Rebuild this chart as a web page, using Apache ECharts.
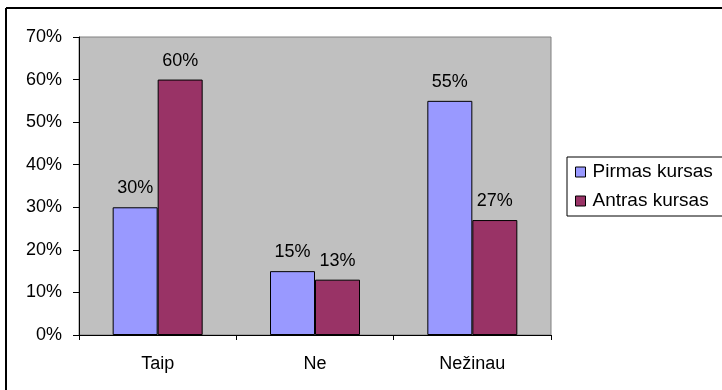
<!DOCTYPE html>
<html>
<head>
<meta charset="utf-8">
<style>
  html, body { margin: 0; padding: 0; background: #fff; }
  #chart { width: 722px; height: 390px; }
</style>
<script src="https://cdn.jsdelivr.net/npm/echarts@6/dist/echarts.min.js"></script>
</head>
<body>
<div id="chart"></div>
<script>
// Answers by course, percent
const categories = ['Taip', 'Ne', 'Nežinau'];
const pirmasKursas = [30, 15, 55];
const antrasKursas = [60, 13, 27];
const seriesNames = ['Pirmas kursas', 'Antras kursas'];

const FONT = '"Liberation Sans", Arial, sans-serif';

const chart = echarts.init(document.getElementById('chart'), null, { renderer: 'canvas' });

const barLabel = {
  show: true,
  position: 'top',
  distance: 10,
  formatter: '{c}%',
  color: '#000',
  fontFamily: FONT,
  fontSize: 18
};

chart.setOption({
  animation: false,
  backgroundColor: '#fff',
  textStyle: { fontFamily: FONT },
  graphic: [
    // frame around the chart area (top and left edges)
    { type: 'line', shape: { x1: 6, y1: 8, x2: 722, y2: 8 }, style: { stroke: '#000', lineWidth: 2 } },
    { type: 'line', shape: { x1: 6, y1: 8, x2: 6, y2: 390 }, style: { stroke: '#000', lineWidth: 2 } }
  ],
  grid: {
    left: 79, top: 37, right: 171, bottom: 55,
    show: true,
    backgroundColor: '#C0C0C0',
    borderColor: '#808080',
    borderWidth: 1
  },
  legend: {
    left: 567,
    top: 157,
    orient: 'vertical',
    data: seriesNames,
    icon: 'rect',
    itemWidth: 10,
    itemHeight: 10,
    itemGap: 9,
    padding: [5, 40, 5, 8],
    borderColor: '#000',
    borderWidth: 1,
    backgroundColor: '#fff',
    itemStyle: { borderColor: '#000', borderWidth: 1 },
    textStyle: { fontFamily: FONT, fontSize: 19, color: '#000', lineHeight: 20, padding: [0, 0, 0, 2] }
  },
  xAxis: {
    type: 'category',
    data: categories,
    axisLine: { show: true, lineStyle: { color: '#000', width: 1 } },
    axisTick: { show: true, length: 5, lineStyle: { color: '#000' } },
    axisLabel: { color: '#000', fontFamily: FONT, fontSize: 18, margin: 20 },
    splitLine: { show: false }
  },
  yAxis: {
    type: 'value',
    min: 0,
    max: 70,
    interval: 10,
    axisLine: { show: true, lineStyle: { color: '#000', width: 1 } },
    axisTick: { show: true, length: 6, lineStyle: { color: '#000' } },
    axisLabel: { color: '#000', fontFamily: FONT, fontSize: 18, margin: 17, formatter: '{value}%' },
    splitLine: { show: false }
  },
  series: [
    {
      name: seriesNames[0],
      type: 'bar',
      data: pirmasKursas,
      barWidth: 45,
      barGap: '0%',
      itemStyle: { color: '#9999FF', borderColor: '#000', borderWidth: 1 },
      label: barLabel
    },
    {
      name: seriesNames[1],
      type: 'bar',
      data: antrasKursas,
      barWidth: 45,
      barGap: '0%',
      itemStyle: { color: '#993366', borderColor: '#000', borderWidth: 1 },
      label: barLabel
    }
  ]
});
</script>
</body>
</html>
